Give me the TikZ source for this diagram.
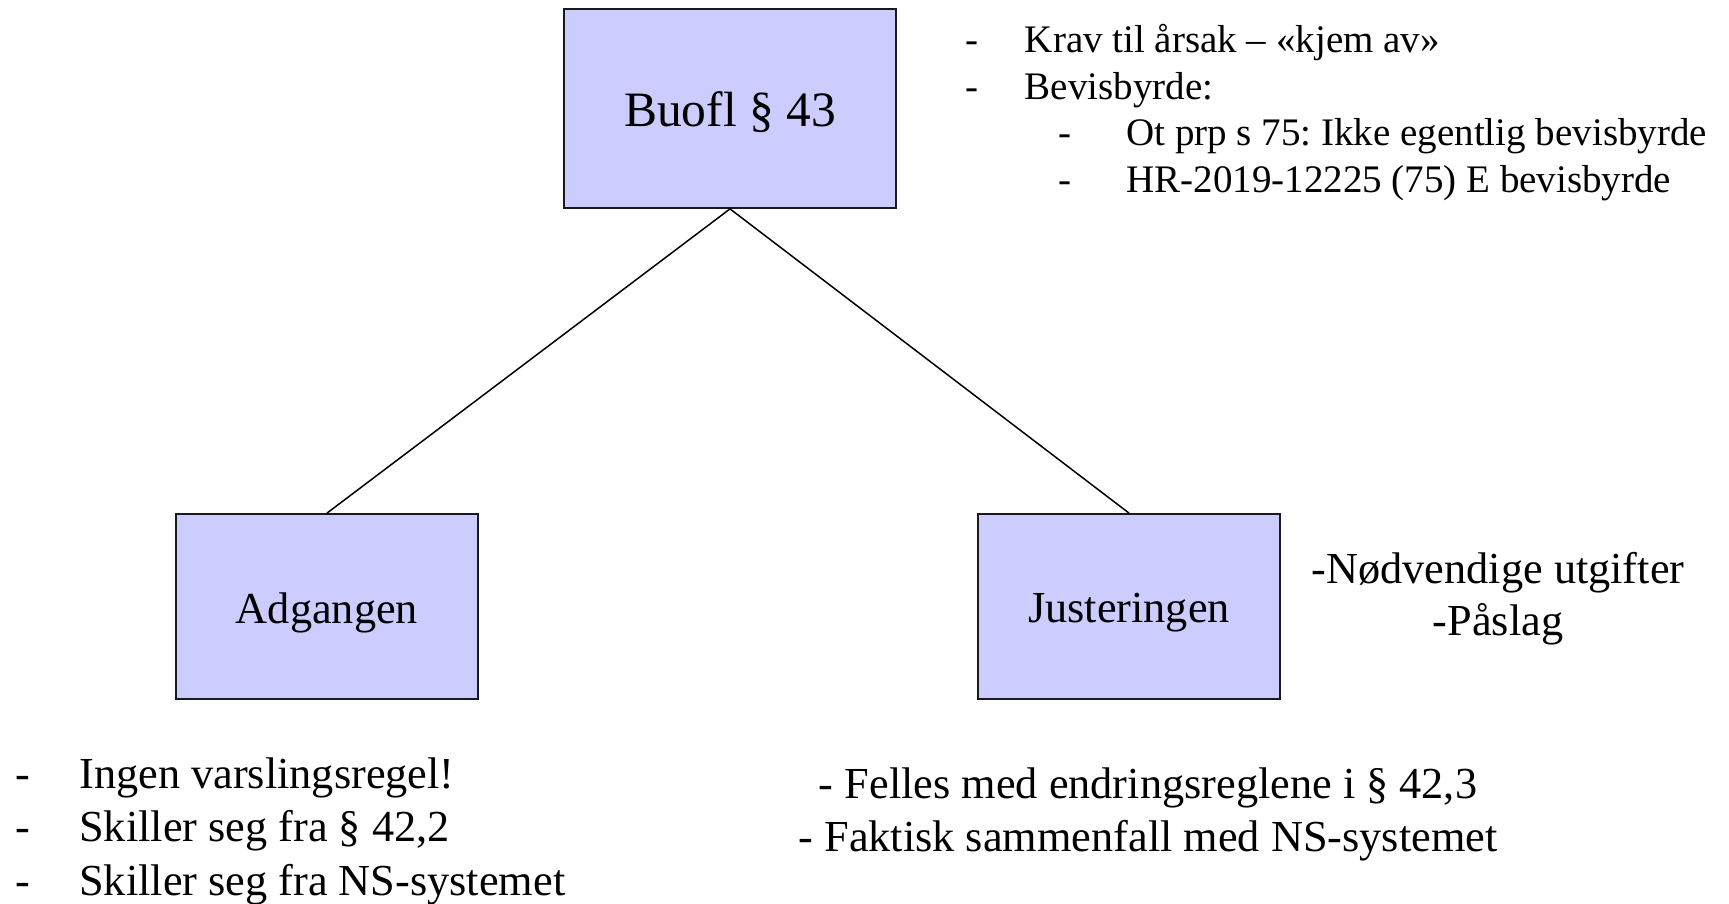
\documentclass[tikz,border=0pt]{standalone}
\usepackage{fontspec}
\setmainfont{Liberation Serif}
\definecolor{boxfill}{HTML}{CCCCFF}
\definecolor{boxline}{HTML}{1A1A1A}
\begin{document}
\frenchspacing
\begin{tikzpicture}[x=0.5pt,y=-0.5pt,
  topicbox/.style={draw=boxline, line width=0.9pt, fill=boxfill,
    inner sep=0pt, text depth=0pt},
  link/.style={draw=black, line width=0.75pt},
  bigtext/.style={font=\fontsize{22.15}{26}\selectfont},
  smalltext/.style={font=\fontsize{19.5}{23}\selectfont},
  listline/.style={anchor=base west, inner sep=0pt},
  centerline/.style={anchor=base, inner sep=0pt}]
\useasboundingbox (0,0) rectangle (1729,904);

% the three boxes
\node[topicbox, minimum width=166pt, minimum height=99.5pt, text height=18.2pt,
  font=\fontsize{24.75}{30}\selectfont] (top) at (730,108.5) {Buofl § 43};
\node[topicbox, bigtext, minimum width=151pt, minimum height=92.5pt, text height=16.5pt]
  (adg) at (327,606.5) {Adgangen};
\node[topicbox, bigtext, minimum width=151pt, minimum height=92.5pt, text height=16pt]
  (jus) at (1129,606.5) {Justeringen};

% tree connectors
\draw[link] (top.south) -- (adg.north);
\draw[link] (top.south) -- (jus.north);

% notes beside the top box
\node[listline, smalltext] (k1) at (965,53)
  {\makebox[29.75pt][l]{-}Krav til årsak – «kjem av»};
\node[listline, smalltext] (k2) at (965,99.5)
  {\makebox[29.75pt][l]{-}Bevisbyrde:};
\node[listline, smalltext] (k3) at (1058.5,146)
  {\makebox[33.75pt][l]{-}Ot prp s 75: Ikke egentlig bevisbyrde};
\node[listline, smalltext] (k4) at (1058.5,192)
  {\makebox[33.75pt][l]{-}HR-2019-12225 (75) E bevisbyrde};

% notes beside the adjustment box
\node[centerline, bigtext] (j1) at (1498,583.5) {-Nødvendige utgifter};
\node[centerline, bigtext] (j2) at (1498,635) {-Påslag};

% notes under the access box
\node[listline, bigtext] (a1) at (15,788)
  {\makebox[32pt][l]{-}Ingen varslingsregel!};
\node[listline, bigtext] (a2) at (15,841.7)
  {\makebox[32pt][l]{-}Skiller seg fra § 42,2};
\node[listline, bigtext] (a3) at (15,895)
  {\makebox[32pt][l]{-}Skiller seg fra NS-systemet};

% notes under the adjustment box
\node[centerline, bigtext] (b1) at (1148,798) {- Felles med endringsreglene i § 42,3};
\node[centerline, bigtext] (b2) at (1148,851.7) {- Faktisk sammenfall med NS-systemet};
\end{tikzpicture}
\end{document}
